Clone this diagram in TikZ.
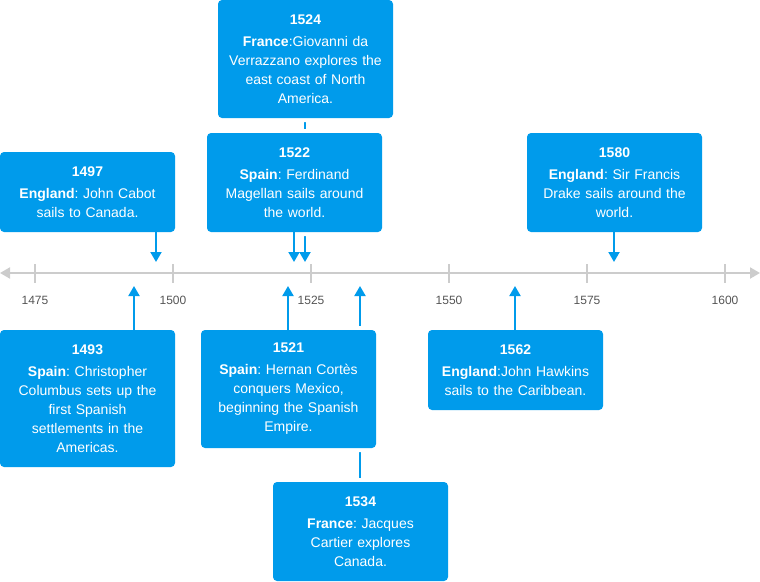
\documentclass[tikz,border=0pt]{standalone}
\usepackage{fontspec}
\setmainfont{Liberation Sans}
\usetikzlibrary{arrows.meta}
\definecolor{boxblue}{RGB}{0,155,235}
\definecolor{axisgray}{RGB}{204,204,204}
\definecolor{labelgray}{RGB}{85,85,85}
\frenchspacing
\tikzset{
  evbox/.style={fill=boxblue, rounded corners=4pt, text=white, minimum width=175pt,
    text width=163pt, align=center, inner sep=0pt, font=\fontsize{14}{19}\selectfont\frenchspacing,
    preaction={draw=white, line width=8pt}},
  conn/.style={draw=boxblue, line width=2pt, -{Triangle[width=11pt,length=10pt]}},
  axisline/.style={draw=axisgray, line width=2pt, {Triangle[width=11pt,length=10pt]}-{Triangle[width=11pt,length=10pt]}},
  tick/.style={draw=axisgray, line width=2pt},
  yearlbl/.style={text=labelgray, font=\fontsize{12}{14}\selectfont, inner sep=0pt}
}
\begin{document}
\begin{tikzpicture}[x=1pt,y=-1pt]
\useasboundingbox (0,0) rectangle (760,581);
% axis
\coordinate (axL) at (0,273);
\coordinate (axR) at (760,273);
\draw[axisline] (axL) -- (axR);
\foreach \x/\yr in {35/1475,173/1500,311/1525,449/1550,587/1575,725/1600}{
  \coordinate (tk\yr a) at (\x,264);
  \coordinate (tk\yr b) at (\x,283);
  \draw[tick] (tk\yr a) -- (tk\yr b);
  \node[yearlbl] (lbl\yr) at (\x,300) {\yr};
}
% arrow targets
\coordinate (t1497) at (156,262);
\coordinate (t1522) at (294,262);
\coordinate (t1524) at (305,262);
\coordinate (t1580) at (614,262);
\coordinate (t1493) at (134,286);
\coordinate (t1521) at (288,286);
\coordinate (t1534) at (360,286);
\coordinate (t1562) at (515,286);
% connectors passing behind boxes
\coordinate (s1524) at (305,118);
\coordinate (s1534) at (360,482);
\draw[conn] (s1524) -- (t1524);
\draw[conn] (s1534) -- (t1534);
% boxes
\node[evbox, minimum height=118pt] (b1524) at (305.5,59) {\textbf{1524}\\[3pt]\textbf{France}:Giovanni da\\Verrazzano explores the\\east coast of North\\America.};
\node[evbox, minimum height=80pt] (b1497) at (87.5,192) {\textbf{1497}\\[3pt]\textbf{England}: John Cabot\\sails to Canada.};
\node[evbox, minimum height=99pt] (b1522) at (294.5,182.5) {\textbf{1522}\\[3pt]\textbf{Spain}: Ferdinand\\Magellan sails around\\the world.};
\node[evbox, minimum height=99pt] (b1580) at (614.5,182.5) {\textbf{1580}\\[3pt]\textbf{England}: Sir Francis\\Drake sails around the\\world.};
\node[evbox, minimum height=137pt] (b1493) at (87.5,398.5) {\textbf{1493}\\[3pt]\textbf{Spain}: Christopher\\Columbus sets up the\\first Spanish\\settlements in the\\Americas.};
\node[evbox, minimum height=118pt] (b1521) at (288.5,389) {\textbf{1521}\\[3pt]\textbf{Spain}: Hernan Cortès\\conquers Mexico,\\beginning the Spanish\\Empire.};
\node[evbox, minimum height=99pt] (b1534) at (360.5,531.5) {\textbf{1534}\\[3pt]\textbf{France}: Jacques\\Cartier explores\\Canada.};
\node[evbox, minimum height=80pt] (b1562) at (515.5,370) {\textbf{1562}\\[3pt]\textbf{England}:John Hawkins\\sails to the Caribbean.};
% own connectors
\draw[conn] (b1497.south -| t1497) -- (t1497);
\draw[conn] (b1522.south -| t1522) -- (t1522);
\draw[conn] (b1580.south -| t1580) -- (t1580);
\draw[conn] (b1493.north -| t1493) -- (t1493);
\draw[conn] (b1521.north -| t1521) -- (t1521);
\draw[conn] (b1562.north -| t1562) -- (t1562);
\end{tikzpicture}
\end{document}
